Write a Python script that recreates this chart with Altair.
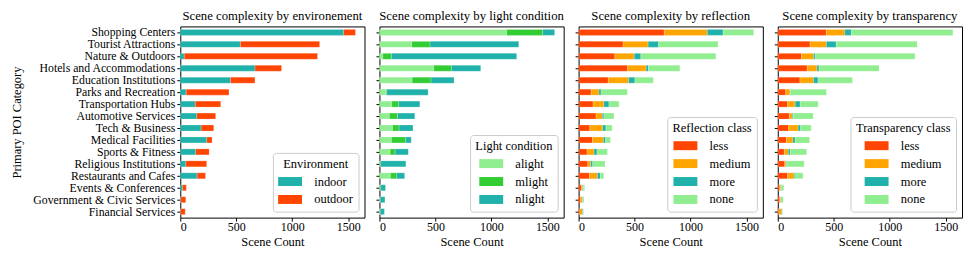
import altair as alt
import pandas as pd

categories = [
    "Shopping Centers", "Tourist Attractions", "Nature & Outdoors",
    "Hotels and Accommodations", "Education Institutions", "Parks and Recreation",
    "Transportation Hubs", "Automotive Services", "Tech & Business",
    "Medical Facilities", "Sports & Fitness", "Religious Institutions",
    "Restaurants and Cafes", "Events & Conferences",
    "Government & Civic Services", "Financial Services",
]

# Environment
env_classes = ["indoor", "outdoor"]
env_indoor = [1460, 537, 36, 668, 448, 53, 134, 148, 187, 237, 139, 50, 151, 21, 6, 3]
env_outdoor = [105, 708, 1190, 237, 219, 382, 227, 168, 112, 47, 119, 186, 74, 33, 43, 41]

# Light condition
light_classes = ["alight", "mlight", "nlight"]
light_a = [1137, 289, 30, 485, 292, 60, 110, 89, 116, 107, 95, 6, 98, 6, 5, 5]
light_m = [321, 163, 77, 158, 169, 5, 63, 72, 60, 128, 45, 6, 57, 6, 3, 3]
light_n = [107, 793, 1119, 262, 206, 370, 188, 155, 123, 49, 118, 224, 70, 42, 41, 36]

# Reflection
refl_classes = ["less", "medium", "more", "none"]
refl_less = [765, 397, 324, 438, 265, 112, 129, 156, 100, 124, 76, 82, 97, 24, 18, 10]
refl_medium = [385, 224, 173, 165, 182, 70, 97, 56, 115, 97, 62, 27, 71, 11, 17, 25]
refl_more = [141, 94, 59, 21, 56, 18, 45, 14, 29, 20, 27, 17, 26, 6, 3, 7]
refl_none = [274, 530, 670, 281, 164, 235, 90, 90, 55, 43, 93, 110, 31, 13, 11, 2]

# Transparency
trans_less = [434, 289, 212, 263, 198, 71, 88, 103, 97, 77, 59, 62, 88, 18, 18, 9]
trans_medium = [165, 145, 107, 88, 121, 38, 68, 27, 86, 59, 35, 12, 56, 9, 9, 26]
trans_more = [59, 88, 14, 18, 41, 3, 45, 9, 21, 20, 18, 6, 9, 3, 2, 6]
trans_none = [907, 723, 893, 536, 307, 323, 160, 177, 95, 128, 146, 156, 72, 24, 20, 3]

x_ticks = [0, 500, 1000, 1500]

TEAL = "#20B2AA"
ORANGERED = "#FF4500"
LIGHTGREEN = "#90EE90"
LIMEGREEN = "#32CD32"
ORANGE = "#FFA500"

FONT = "Liberation Serif"
W, H = 185, 192
RECT = "M-2,-0.75H2V0.75H-2Z"


def long_df(classes, series):
    rows = []
    for k, (cls, vals) in enumerate(zip(classes, series)):
        for cat, v in zip(categories, vals):
            rows.append({"category": cat, "cls": cls, "value": v, "idx": k})
    return pd.DataFrame(rows)


def panel(title, classes, series, colors, legend_title, first):
    df = long_df(classes, series)
    if first:
        yaxis = alt.Axis(title="Primary POI Category", labelFontSize=11.8,
                         titleFontSize=12.5, labelPadding=2, titlePadding=9)
    else:
        yaxis = alt.Axis(title=None, labels=False)
    return alt.Chart(df, title=alt.TitleParams(title, fontSize=12.8, fontWeight="normal",
                                               font=FONT, offset=4)).mark_bar(
        stroke="white", strokeOpacity=0.35, strokeWidth=0.6
    ).encode(
        y=alt.Y("category:N", sort=categories,
                scale=alt.Scale(paddingInner=0.5, paddingOuter=0.25),
                axis=yaxis),
        x=alt.X("value:Q", stack="zero",
                scale=alt.Scale(domain=[0, 1646], nice=False, zero=True),
                axis=alt.Axis(title="Scene Count", values=x_ticks, format="d",
                              labelFontSize=12, titleFontSize=12.5,
                              labelPadding=0, titlePadding=3)),
        color=alt.Color("cls:N",
                        scale=alt.Scale(domain=classes, range=colors),
                        legend=alt.Legend(title=legend_title, orient="bottom-right",
                                          offset=6, symbolType=RECT, symbolSize=144,
                                          symbolOffset=6, labelOffset=18,
                                          symbolStrokeWidth=0, symbolOpacity=1,
                                          labelFontSize=12.5, titleFontSize=12.5,
                                          titleFontWeight="normal", titleAnchor="middle",
                                          rowPadding=5, titlePadding=5,
                                          padding=5, fillColor="white",
                                          strokeColor="#cccccc", cornerRadius=3)),
        order=alt.Order("idx:Q", sort="ascending"),
    ).properties(width=W, height=H)


p1 = panel("Scene complexity by environement", env_classes,
           [env_indoor, env_outdoor], [TEAL, ORANGERED], "Environment", True)
p2 = panel("Scene complexity by light condition", light_classes,
           [light_a, light_m, light_n], [LIGHTGREEN, LIMEGREEN, TEAL], "Light condition", False)
p3 = panel("Scene complexity by reflection", refl_classes,
           [refl_less, refl_medium, refl_more, refl_none],
           [ORANGERED, ORANGE, TEAL, LIGHTGREEN], "Reflection class", False)
p4 = panel("Scene complexity by transparency", refl_classes,
           [trans_less, trans_medium, trans_more, trans_none],
           [ORANGERED, ORANGE, TEAL, LIGHTGREEN], "Transparency class", False)

chart = alt.hconcat(p1, p2, p3, p4, spacing=9).resolve_scale(
    color="independent"
).properties(padding={"left": 2, "top": 0, "right": 0, "bottom": 0}).configure(
    font=FONT
).configure_view(stroke="black", strokeWidth=1).configure_axis(
    grid=False, domain=False, tickColor="black", tickSize=3.5, labelColor="black",
    titleColor="black", labelFont=FONT, titleFont=FONT, titleFontWeight="normal"
).configure_legend(labelFont=FONT, titleFont=FONT, labelColor="black", titleColor="black")

chart.save("out.html", embed_options={"renderer": "svg", "actions": False})
